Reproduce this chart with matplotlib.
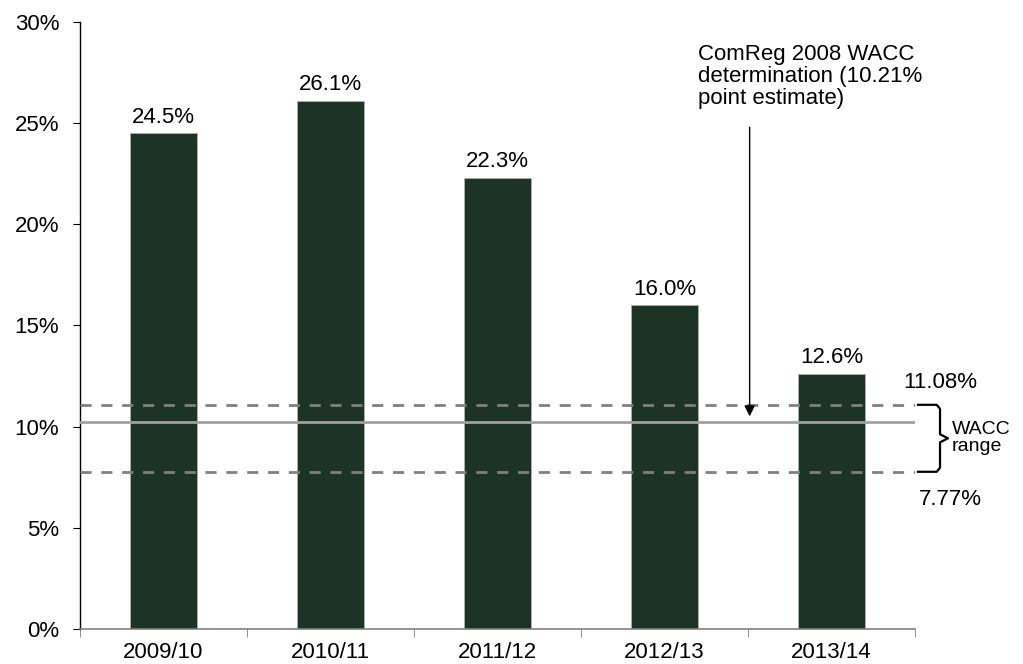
# WACC vs returns chart
import numpy as np
import matplotlib
matplotlib.use('Agg')
import matplotlib.pyplot as plt
from matplotlib.transforms import blended_transform_factory

plt.rcParams['font.family'] = ['Liberation Sans', 'DejaVu Sans']
plt.rcParams['font.size'] = 16

# Data
years = ['2009/10', '2010/11', '2011/12', '2012/13', '2013/14']
returns = [24.5, 26.1, 22.3, 16.0, 12.6]
wacc_low = 7.77
wacc_high = 11.08
wacc_point = 10.21

bar_color = '#1d3326'

fig = plt.figure(figsize=(10.23, 6.64), dpi=100)
ax = fig.add_axes([0.0782, 0.0527, 0.8162, 0.9142])

x = np.arange(len(years))
ax.bar(x, returns, width=0.4, color=bar_color, edgecolor='#b0b0b0', linewidth=0.6, zorder=2)
for xi, v in zip(x, returns):
    ax.annotate('%.1f%%' % v, (xi, v), xytext=(0, 4), textcoords='offset points',
                ha='center', va='bottom')

# WACC lines
ax.axhline(wacc_high, color='#808080', ls=(0, (4, 3.5)), lw=2, zorder=3)
ax.axhline(wacc_low, color='#808080', ls=(0, (4, 3.5)), lw=2, zorder=3)
ax.axhline(wacc_point, color='#a0a0a0', lw=2, zorder=3)

ax.set_xlim(-0.5, len(years) - 0.5)
ax.set_ylim(0, 30)
ax.set_yticks(np.arange(0, 31, 5))
ax.set_yticklabels(['%d%%' % t for t in range(0, 31, 5)])
ax.set_xticks(x)
ax.set_xticklabels(years)
ax.tick_params(axis='x', which='major', length=0, pad=9)
ax.set_xticks(np.arange(-0.5, len(years), 1), minor=True)
ax.tick_params(axis='x', which='minor', length=6, color='#808080')
ax.tick_params(axis='y', length=5, width=0.8, pad=10)

for s in ['top', 'right']:
    ax.spines[s].set_visible(False)
ax.spines['bottom'].set_color('#808080')
ax.spines['bottom'].set_linewidth(1.2)
ax.spines['left'].set_linewidth(1)

# Labels for range
trans = blended_transform_factory(ax.transAxes, ax.transData)
ax.text(1.03, wacc_high + 0.6, '%.2f%%' % wacc_high, transform=trans, ha='center', va='bottom')
ax.text(1.042, wacc_low - 0.85, '%.2f%%' % wacc_low, transform=trans, ha='center', va='top')
ax.text(1.044, (wacc_low + wacc_high) / 2, 'WACC\nrange', transform=trans, ha='left', va='center',
        fontsize=14, linespacing=1.0)

# Brace
mid = (wacc_low + wacc_high) / 2
bx0, bx1, bx2 = 1.0036, 1.030, 1.0395
ax.plot([bx0, bx1 - 0.004, bx1, bx1, bx2, bx1, bx1, bx1 - 0.004, bx0],
        [wacc_high, wacc_high, wacc_high - 0.2, mid + 0.2, mid, mid - 0.2, wacc_low + 0.2, wacc_low, wacc_low],
        transform=trans, color='black', lw=1.6, clip_on=False)

# Annotation arrow
ax.text(3.2, 28.9, 'ComReg 2008 WACC\ndetermination (10.21%\npoint estimate)',
        ha='left', va='top', linespacing=1.05)
ax.annotate('', xy=(3.51, wacc_point + 0.3), xytext=(3.51, 24.8),
            arrowprops=dict(arrowstyle='-|>', color='black', lw=1, shrinkA=0, shrinkB=0))

fig.savefig('out.png', dpi=100)
